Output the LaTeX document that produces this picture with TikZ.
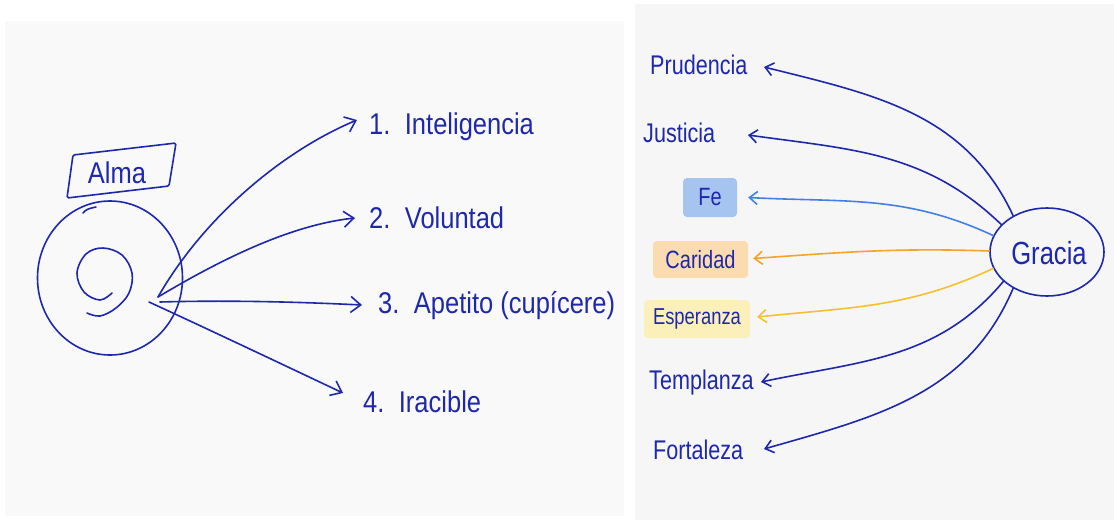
\documentclass[tikz,border=0pt]{standalone}
\usepackage{fontspec}
\setmainfont{Liberation Sans}
\newfontfamily\hand[FakeStretch=0.85]{Liberation Sans}
\newfontfamily\handn[FakeStretch=0.8]{Liberation Sans}
\usetikzlibrary{arrows.meta,shapes.geometric}
\definecolor{ink}{RGB}{30,40,172}
\definecolor{panelL}{RGB}{249,249,249}
\definecolor{panelR}{RGB}{246,246,246}
\definecolor{feFill}{RGB}{166,196,240}
\definecolor{feLine}{RGB}{66,128,232}
\definecolor{carFill}{RGB}{250,220,176}
\definecolor{carLine}{RGB}{245,164,36}
\definecolor{espFill}{RGB}{251,240,186}
\definecolor{espLine}{RGB}{246,192,44}
\tikzset{
  stroke/.style={draw=ink, line width=1.6pt, line cap=round, line join=round},
  bigarrow/.style={stroke, -{Straight Barb[length=10pt,width=16pt]}},
  smallarrow/.style={stroke, -{Straight Barb[length=8pt,width=13pt]}},
  lefttext/.style={text=ink, inner sep=0pt, anchor=base west, font=\hand\fontsize{30}{32}\selectfont},
  righttext/.style={text=ink, inner sep=0pt, anchor=base west, font=\handn\fontsize{27}{29}\selectfont},
  tagbox/.style={text=ink, rounded corners=4pt, inner sep=0pt, font=\handn\fontsize{25}{27}\selectfont}
}
\begin{document}
\begin{tikzpicture}[x=1pt,y=-1pt]
\useasboundingbox (0,0) rectangle (1114,520);
\fill[white] (0,0) rectangle (1114,520);
\fill[panelL] (5,21) rectangle (624,516);
\fill[panelR] (635,4) rectangle (1114,520);

% ---------- left panel ----------
\node[text=ink, inner sep=0pt, font=\hand\fontsize{30}{32}\selectfont] (alma) at (117,173) {Alma};
\draw[stroke, rounded corners=1.5pt] (73,155) -- (176,143) -- (169,186) -- (67,198) -- cycle;

\node[ellipse, stroke, minimum width=145pt, minimum height=154pt, inner sep=0pt] (soul) at (110,278) {};
\draw[stroke] (83,213) .. controls (87,209) .. (96,207);
\draw[stroke] plot[smooth, tension=0.6] coordinates {(112,293) (100,300) (84,292) (77,273) (86,254) (103,248) (122,255) (132,273) (129,293) (116,308) (100,316) (87,313)};

\coordinate (o12) at (158,297);
\coordinate (o3) at (160,302);
\coordinate (o4) at (149,302);

\node[lefttext] (l1) at (369,134) {1.\, Inteligencia};
\node[lefttext] (l2) at (369,228) {2.\, Voluntad};
\node[lefttext] (l3) at (378,313) {3.\, Apetito (cupícere)};
\node[lefttext] (l4) at (363,412) {4.\, Iracible};

\coordinate (t1) at ([xshift=-12pt,yshift=14pt]l1.base west);
\coordinate (t2) at ([xshift=-14pt,yshift=10pt]l2.base west);
\coordinate (t3) at ([xshift=-16pt,yshift=8pt]l3.base west);
\coordinate (t4) at ([xshift=-20pt,yshift=19pt]l4.base west);

\draw[bigarrow] (o12) .. controls (205,215) and (285,150) .. (t1);
\draw[bigarrow] (o12) .. controls (220,260) and (290,225) .. (t2);
\draw[bigarrow] (o3) .. controls (230,300) and (300,302) .. (t3);
\draw[bigarrow] (o4) .. controls (210,330) and (290,368) .. (t4);

% ---------- right panel ----------
\node[ellipse, stroke, minimum width=114pt, minimum height=88pt, inner sep=0pt] (gracia) at (1047,252) {};
\node[text=ink, inner sep=0pt, font=\handn\fontsize{32}{34}\selectfont] (graciatext) at (1049,253) {Gracia};

\node[righttext] (prud) at (650,74) {Prudencia};
\node[righttext] (just) at (643,142) {Justicia};
\node[tagbox, fill=feFill, minimum width=54pt, minimum height=39pt, font=\handn\fontsize{25}{27}\selectfont] (fe) at (710,197.5) {Fe};
\node[tagbox, fill=carFill, minimum width=95pt, minimum height=37pt] (car) at (700.5,259.5) {Caridad};
\node[tagbox, fill=espFill, minimum width=106pt, minimum height=38pt, font=\handn\fontsize{23}{25}\selectfont] (esp) at (697,319) {Esperanza};
\node[righttext] (temp) at (649,389) {Templanza};
\node[righttext] (fort) at (653,459) {Fortaleza};

\coordinate (a1) at (764,67);
\coordinate (a2) at (748,135);
\coordinate (a3) at ([xshift=11pt]fe.east);
\coordinate (a4) at ([xshift=5pt,yshift=1pt]car.east);
\coordinate (a5) at ([xshift=7pt,yshift=2pt]esp.east);
\coordinate (a6) at (761,382);
\coordinate (a7) at (764,449);

\draw[smallarrow] (gracia.133) to[out=115, in=-14] (a1);
\draw[smallarrow] (gracia.149) to[out=136, in=-8] (a2);
\draw[smallarrow, draw=feLine] (gracia.163) to[out=155, in=-3] (a3);
\draw[smallarrow, draw=carLine] (gracia.179) to[out=178, in=4] (a4);
\draw[smallarrow, draw=espLine] (gracia.197) to[out=205, in=6] (a5);
\draw[smallarrow] (gracia.214) to[out=230, in=12] (a6);
\draw[smallarrow] (gracia.227) to[out=247, in=16] (a7);
\end{tikzpicture}
\end{document}
